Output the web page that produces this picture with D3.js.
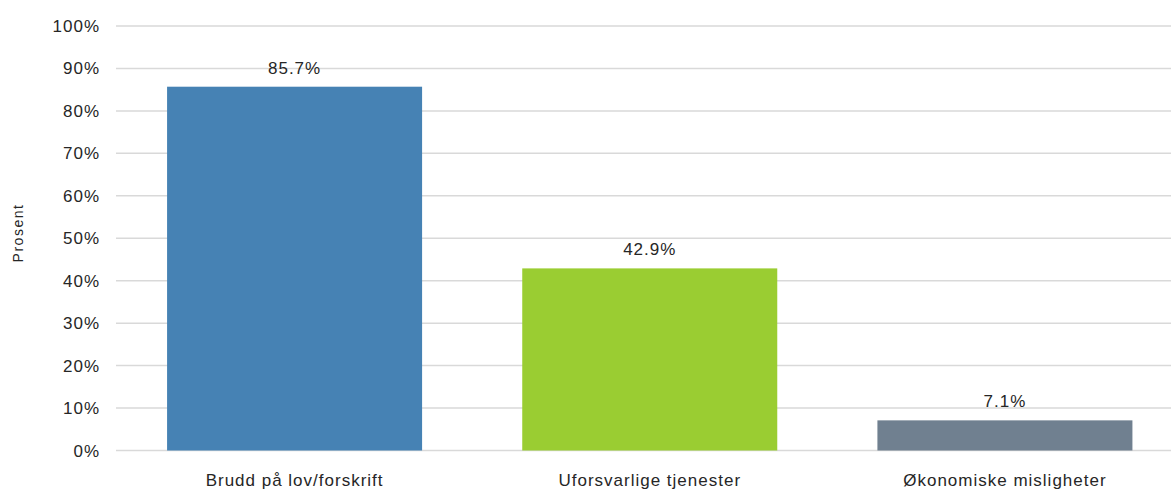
<!DOCTYPE html>
<html><head><meta charset="utf-8">
<script src="https://cdn.jsdelivr.net/npm/d3@7"></script>
<style>body{margin:0;background:#fff}svg{display:block}text{font-family:"Liberation Sans","DejaVu Sans",sans-serif;fill:#262626}</style>
</head><body>
<script>
const categories = ["Brudd på lov/forskrift", "Uforsvarlige tjenester", "Økonomiske misligheter"];
const values = [85.7, 42.9, 7.1];
const colors = ["#4682b4", "#9acd32", "#708090"];
const yTicks = [0,10,20,30,40,50,60,70,80,90,100];

const W = 1171, H = 490;
const svg = d3.select("body").append("svg").attr("width", W).attr("height", H);
const x = d3.scaleBand().domain(categories).range([117, 1182.5]).paddingInner(0.282).paddingOuter(0.141);
const y = d3.scaleLinear().domain([0, 100]).range([450.5, 26]);

svg.append("g").selectAll("line").data(yTicks).join("line")
  .attr("x1", 116).attr("x2", W).attr("y1", d => y(d)).attr("y2", d => y(d))
  .attr("stroke", "#d9d9d9").attr("stroke-width", 1.5);

svg.append("g").selectAll("text").data(yTicks).join("text")
  .attr("x", 100).attr("y", d => y(d) + 6).attr("text-anchor", "end")
  .attr("font-size", 17).attr("letter-spacing", 1).text(d => d + "%");

svg.append("g").selectAll("rect").data(values).join("rect")
  .attr("x", (d, i) => x(categories[i])).attr("width", x.bandwidth())
  .attr("y", d => y(d)).attr("height", d => y(0) - y(d))
  .attr("fill", (d, i) => colors[i]);

svg.append("g").selectAll("text").data(values).join("text")
  .attr("x", (d, i) => x(categories[i]) + x.bandwidth() / 2)
  .attr("y", d => y(d) - 13).attr("text-anchor", "middle")
  .attr("font-size", 17).attr("letter-spacing", 1).text(d => d.toFixed(1) + "%");

svg.append("g").selectAll("text").data(categories).join("text")
  .attr("x", d => x(d) + x.bandwidth() / 2).attr("y", 486)
  .attr("text-anchor", "middle").attr("font-size", 17).attr("letter-spacing", 1).text(d => d);

svg.append("text").attr("transform", "translate(23,233) rotate(-90)")
  .attr("text-anchor", "middle").attr("font-size", 14).attr("letter-spacing", 1.5).text("Prosent");
</script>
</body></html>
